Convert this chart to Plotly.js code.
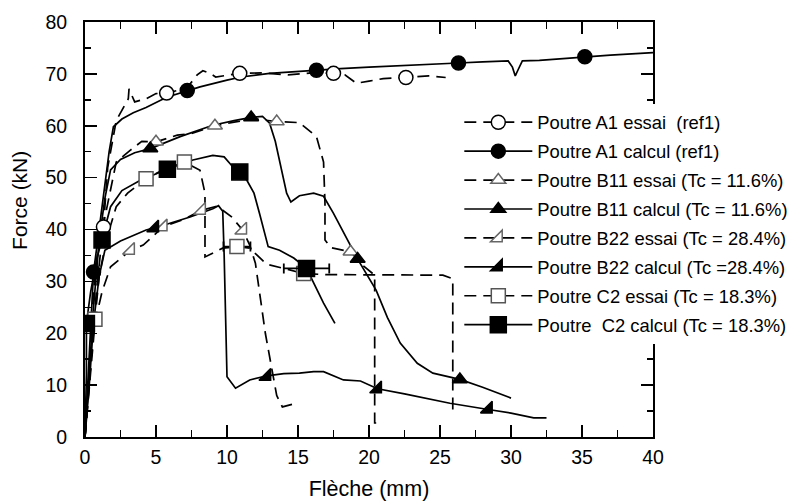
<!DOCTYPE html>
<html><head><meta charset="utf-8">
<script src="https://cdn.plot.ly/plotly-3.0.1.min.js"></script>
<style>html,body{margin:0;padding:0;background:#fff}#chart{width:793px;height:501px}</style>
</head><body><div id="chart"></div>
<script>
// ---------- data ----------
const legendNames = [
  'Poutre A1 essai\u00a0 (ref1)',
  'Poutre A1 calcul (ref1)',
  'Poutre B11 essai (Tc = 11.6%)',
  'Poutre B11 calcul (Tc = 11.6%)',
  'Poutre B22 essai (Tc = 28.4%)',
  'Poutre B22 calcul (Tc =28.4%)',
  'Poutre C2 essai (Tc = 18.3%)',
  'Poutre\u00a0 C2 calcul (Tc = 18.3%)'
];
const xTitle = 'Flèche (mm)';
const yTitle = 'Force (kN)';

// A1
const a1EssaiX = [0,0.3,0.6,0.9,1.3,1.6,2.2,2.8,3.05,3.1,3.5,4.3,5.0,5.75,6.5,7.3,7.9,8.3,8.8,9.2,10,10.9,12.5,14.3,16,17.5,18.3,19.1,20.0,21,22.6,24.2,25.4];
const a1EssaiY = [0,12,28,36,40.5,52,61,64,65.2,67.1,64.6,65.2,66.2,66.3,66.8,67.7,69.8,70.6,70.1,69.4,69.7,70.1,70.2,69.8,70.2,70.1,69.8,68.2,68.6,69.1,69.3,69.6,69.3];
const a1EssaiMarkX = [1.3,5.75,10.9,17.5,22.6];
const a1EssaiMarkY = [40.5,66.3,70.1,70.1,69.3];

const a1CalculX = [0,0.2,0.4,0.6,0.9,1.3,1.7,2.0,2.6,3.4,4.3,5.75,7.2,8.1,10,11,13,14.5,16.3,18,20,22,24,26.3,28,29.8,30.1,30.3,30.5,30.8,32,33.5,35.2,37,40];
const a1CalculY = [0,10,20,31.8,38,46,55,59.8,61.3,62.5,63.5,65.5,66.8,67.5,68.8,69.4,70.1,70.4,70.7,71,71.3,71.6,71.9,72.1,72.3,72.5,71.3,69.6,70.8,72.5,72.6,72.9,73.3,73.6,74.1];
const a1CalculMarkX = [0.6,7.2,16.3,26.3,35.2];
const a1CalculMarkY = [31.8,66.8,70.7,72.1,73.3];

// B11
const b11EssaiX = [0,0.4,0.8,1.3,1.8,2.2,3.2,4.0,5.0,6.5,7.5,9.15,10.5,12,13.5,15.1,16.3,16.8,16.9,16.9,17.3,18.7,19.6,20.4,20.4,21];
const b11EssaiY = [0,14,28,41,48,53,55.3,57,56.9,58.2,58.5,60,60.7,61.3,60.8,60.6,57.9,53,45,38,36.5,35.7,33,31.2,2.7,2.7];
const b11EssaiMarkX = [5.0,9.15,13.5,18.7];
const b11EssaiMarkY = [56.9,60,60.8,35.7];

const b11CalculX = [0,0.3,0.6,1.0,1.4,1.8,2.5,3.5,4.6,6.7,9.0,10.5,11.7,12.5,13.0,13.4,13.8,14.2,14.5,15.1,16.1,16.8,17.5,18.3,19.2,20.5,21.3,22.2,23.4,24.5,26.4,28,30];
const b11CalculY = [0,12,25,38,46,51.5,53.5,54.8,55.6,57.9,60.1,61,61.6,61.8,60.5,57,52,47,45.3,46.5,47,46.4,43.1,39,34.3,28.3,23,18.1,14.2,12.3,11.1,9.6,7.5];
const b11CalculMarkX = [4.6,11.7,19.2,26.4];
const b11CalculMarkY = [55.6,61.6,34.3,11.1];

// B22
const b22EssaiX = [0,0.3,0.7,1.2,1.8,3.2,4.1,5.5,7,8.2,9.3,10.3,11.1,11.6,12.0,12.7,13.5,13.9,14.6];
const b22EssaiY = [0,10,22,28,32.8,36,37,40.5,42,43.7,44.5,42.5,39.9,37,33.5,20,8,5.8,6.3];
const b22EssaiMarkX = [3.2,5.5,8.2,11.1];
const b22EssaiMarkY = [36,40.5,43.7,39.9];

const b22CalculX = [0,0.3,0.6,1.0,1.4,2.5,4.3,4.9,7.4,9.0,9.4,9.7,9.8,9.9,10.0,10.6,11.6,12.8,14,15.1,16.1,16.8,18.2,19.4,20.6,22.5,25.7,28.4,30,31.6,32.5];
const b22CalculY = [0,10,22,31,36,37.8,39.9,40.3,42.4,44,44.6,43.5,35,20,11.6,9.4,11,11.8,12.2,12.3,12.6,12.6,11,10.8,9.3,8.3,6.5,5.3,4.6,3.7,3.7];
const b22CalculMarkX = [4.9,12.8,20.6,28.4];
const b22CalculMarkY = [40.3,11.7,9.3,5.4];

// C2
const c2EssaiX = [0,0.3,0.7,1.0,1.5,2.2,3,4.3,5.5,7.0,8.1,8.45,8.45,8.45,9.7,10.7,11.6,12.8,14,15.4,17,20.4,25.2,25.9,25.9];
const c2EssaiY = [0,12,22.7,31,38,44.4,47,49.8,51.5,53,51.4,47,38,34.7,36.4,36.7,36.4,33.3,32.5,31.5,31.3,31.2,31.2,30.5,5.2];
const c2EssaiMarkX = [0.7,4.3,7.0,10.7,15.4];
const c2EssaiMarkY = [22.7,49.8,53,36.7,31.5];
const c2EssaiErrX = [0,0,0,0.95,0];

const c2CalculX = [0,0.1,0.1,0.4,0.8,1.2,1.8,2.6,3.9,5.8,7.6,9.0,9.8,10.4,10.9,11.4,11.9,12.3,12.9,13.7,14.7,15.6,16.8,17.6];
const c2CalculY = [0,12,21.9,28,34,38,44.4,47.5,49.5,51.6,53.4,54.3,54,52.1,51,49.5,47,43,36.7,36,34.5,32.5,25.8,21.9];
const c2CalculMarkX = [0.1,1.2,5.8,10.9,15.6];
const c2CalculMarkY = [21.9,38,51.6,51.1,32.5];
const c2CalculErrX = [0,0,0,0,1.6];

// ---------- drawing ----------
const FONT = 'Liberation Sans, Arial, sans-serif';
const DASH = '12px,7px';
function gapped(arr){ const out=[]; arr.forEach((v,i)=>{ if(i) out.push(null); out.push(v); }); return out; }

const series = [
  {name:legendNames[0], x:a1EssaiX, y:a1EssaiY, mx:a1EssaiMarkX, my:a1EssaiMarkY, dash:DASH, sym:'circle', fill:'#fff', edge:'#000', size:14},
  {name:legendNames[1], x:a1CalculX, y:a1CalculY, mx:a1CalculMarkX, my:a1CalculMarkY, dash:'solid', sym:'circle', fill:'#000', edge:'#000', size:14},
  {name:legendNames[2], x:b11EssaiX, y:b11EssaiY, mx:b11EssaiMarkX, my:b11EssaiMarkY, dash:DASH, sym:'triangle-up', fill:'#fff', edge:'#666', size:13},
  {name:legendNames[3], x:b11CalculX, y:b11CalculY, mx:b11CalculMarkX, my:b11CalculMarkY, dash:'solid', sym:'triangle-up', fill:'#000', edge:'#000', size:13},
  {name:legendNames[4], x:b22EssaiX, y:b22EssaiY, mx:b22EssaiMarkX, my:b22EssaiMarkY, dash:DASH, sym:'triangle-se', fill:'#fff', edge:'#666', size:13},
  {name:legendNames[5], x:b22CalculX, y:b22CalculY, mx:b22CalculMarkX, my:b22CalculMarkY, dash:'solid', sym:'triangle-se', fill:'#000', edge:'#000', size:13},
  {name:legendNames[6], x:c2EssaiX, y:c2EssaiY, mx:c2EssaiMarkX, my:c2EssaiMarkY, err:c2EssaiErrX, dash:DASH, sym:'square', fill:'#fff', edge:'#555', size:14},
  {name:legendNames[7], x:c2CalculX, y:c2CalculY, mx:c2CalculMarkX, my:c2CalculMarkY, err:c2CalculErrX, dash:'solid', sym:'square', fill:'#000', edge:'#000', size:16}
];

const traces = [];
series.forEach((s,i)=>{
  traces.push({x:s.x, y:s.y, mode:'lines', showlegend:false, legendgroup:'g'+i, hoverinfo:'skip',
    line:{color:'#000', width:1.7, dash:s.dash}});
});
series.forEach((s,i)=>{
  const t = {x:gapped(s.mx), y:gapped(s.my), mode:'lines+markers', name:s.name, legendgroup:'g'+i,
    connectgaps:false, line:{color:'#000', width:1.7, dash:s.dash},
    marker:{symbol:s.sym, size:s.size, color:s.fill, line:{color:s.edge, width:1.5}}};
  if (s.err) t.error_x = {type:'data', array:gapped(s.err), visible:true, color:'#000', thickness:1.8, width:5};
  traces.push(t);
});

const axisCommon = {
  ticks:'inside', ticklen:12, tickwidth:1.5, tickcolor:'#000',
  showline:true, linewidth:2, linecolor:'#000', mirror:'allticks',
  showgrid:false, zeroline:false, fixedrange:true, automargin:false,
  tickfont:{family:FONT, size:19.5, color:'#000'}
};

const layout = {
  width:793, height:501,
  margin:{l:85, r:140, t:22, b:64, autoexpand:false},
  paper_bgcolor:'#fff', plot_bgcolor:'#fff',
  font:{family:FONT, color:'#000'},
  showlegend:true,
  legend:{x:0.659, xanchor:'left', y:0.803, yanchor:'top', bgcolor:'#fff', borderwidth:0,
    font:{family:FONT, size:18.4, color:'#000'}, itemwidth:68, tracegroupgap:2, traceorder:'grouped'},
  xaxis:Object.assign({}, axisCommon, {range:[0,40], tick0:0, dtick:5, ticklabelstandoff:2,
    minor:{ticks:'inside', dtick:2.5, ticklen:7, tickwidth:1.5, tickcolor:'#000'},
    title:{text:xTitle, font:{family:FONT, size:21.5, color:'#000'}, standoff:14}}),
  yaxis:Object.assign({}, axisCommon, {range:[0,80], tick0:0, dtick:10, ticklabelstandoff:12,
    minor:{ticks:'inside', dtick:5, ticklen:6, tickwidth:1.5, tickcolor:'#000'},
    title:{text:''}}),
  annotations:[{text:yTitle, xref:'paper', yref:'paper', x:-0.1144, y:0.569, xanchor:'center', yanchor:'middle',
    textangle:-90, showarrow:false, font:{family:FONT, size:21, color:'#000'}}]
};

Plotly.newPlot('chart', traces, layout, {displayModeBar:false, staticPlot:true});
</script>
</body></html>
